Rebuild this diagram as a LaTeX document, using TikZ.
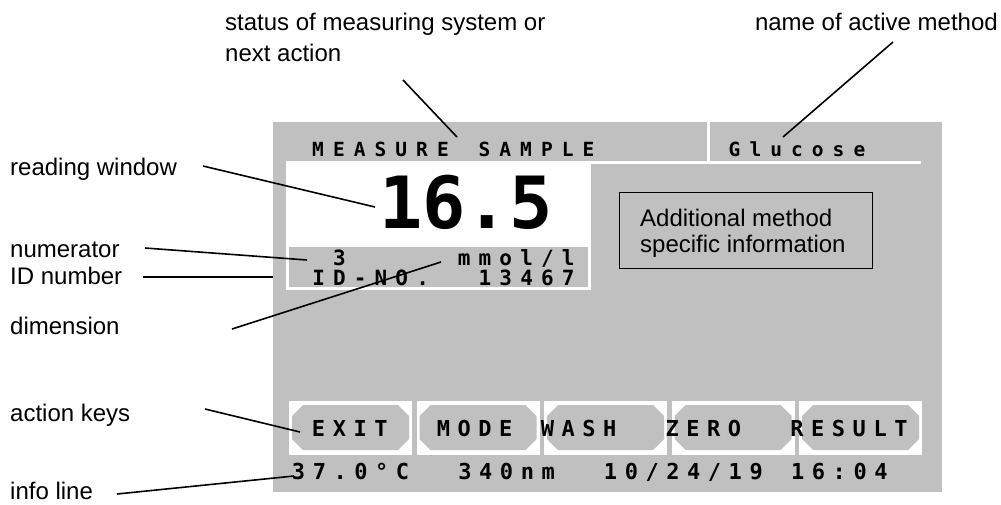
\documentclass[tikz,border=0pt]{standalone}
\usepackage{fontspec}
\setmainfont{Liberation Sans}
\newfontfamily\dmono{DejaVu Sans Mono}
\definecolor{panelgray}{RGB}{192,192,192}
\newlength\monopitch
\setlength\monopitch{20.8pt}
\makeatletter
\newcommand\monostr[1]{\@tfor\mch:=#1\do{\makebox[\monopitch][c]{\mch}}}
\makeatother
\tikzset{
  lbl/.style={anchor=base west, inner sep=0pt, font=\fontsize{24}{28}\selectfont},
  lead/.style={line width=1.6pt, black},
  lcdtop/.style={anchor=base west, inner sep=0pt, font=\dmono\bfseries\fontsize{19.5}{22}\selectfont},
  lcdrow/.style={anchor=base west, inner sep=0pt, font=\dmono\bfseries\fontsize{21}{24}\selectfont},
  lcdkey/.style={anchor=base west, inner sep=0pt, font=\dmono\bfseries\fontsize{22}{25}\selectfont},
  sep/.style={white, line width=3pt},
}
\begin{document}
\begin{tikzpicture}[x=1pt, y=-1pt]
\useasboundingbox (0,0) rectangle (1001,504);
% display panel
\fill[panelgray] (273,122) rectangle (942,492);
\draw[sep] (591,162) -- (921,162);
\draw[sep] (708.5,122) -- (708.5,162);
\fill[white] (286,161) rectangle (591,290);
\fill[panelgray] (289,247) rectangle (588,287);
% key buttons
\foreach \i in {0,...,4}{
  \pgfmathsetmacro\xa{289+127.5*\i}
  \fill[white] (\xa,401) rectangle (\xa+123,455);
  \fill[panelgray] (\xa+14,405) -- (\xa+109,405) -- (\xa+120,416) -- (\xa+120,439)
     -- (\xa+109,450) -- (\xa+14,450) -- (\xa+3,439) -- (\xa+3,416) -- cycle;
}
% display texts
\node[lcdtop] (status) at (307.5,156) {\monostr{MEASURE~SAMPLE}};
\node[lcdtop] (method) at (724,156) {\monostr{Glucose}};
\node[anchor=base, inner sep=0pt, font=\dmono\bfseries\fontsize{72}{80}\selectfont] (reading) at (466,228) {16.5};
\node[lcdrow] (row1) at (308,265) {\monostr{~3~~~~~mmol/l}};
\node[lcdrow] (row2) at (308,285) {\monostr{ID-NO.~~13467}};
\node[lcdkey] (keys) at (308,436) {\monostr{EXIT~~MODE~WASH~~ZERO~~RESULT}};
\node[lcdkey] (info) at (288,479) {\monostr{37.0°C~~340nm~~10/24/19~16:04}};
% additional info box
\node[draw, line width=1.4pt, minimum width=253pt, minimum height=76pt, anchor=north west, inner sep=0pt] (addbox) at (619,192) {};
\node[lbl] (add1) at (640,226) {Additional method};
\node[lbl] (add2) at (640,252) {specific information};
% labels
\node[lbl] (l-status1) at (225,30) {status of measuring system or};
\node[lbl] (l-status2) at (225,61) {next action};
\node[lbl, anchor=base east] (l-method) at (998,30) {name of active method};
\node[lbl] (l-read) at (10,175) {reading window};
\node[lbl] (l-num) at (10,257) {numerator};
\node[lbl] (l-id) at (10,284) {ID number};
\node[lbl] (l-dim) at (10,334) {dimension};
\node[lbl] (l-keys) at (10,421) {action keys};
\node[lbl] (l-info) at (10,499) {info line};
% leader end points
\coordinate (s-status) at (403,80);   \coordinate (e-status) at (457,137);
\coordinate (s-method) at (893,42);   \coordinate (e-method) at (783,137);
\coordinate (s-read) at (203,166);    \coordinate (e-read) at (375,207);
\coordinate (s-num) at (145,248);     \coordinate (e-num) at (307,260);
\coordinate (s-id) at (143,277);      \coordinate (e-id) at (273,277);
\coordinate (s-dim) at (232,329);     \coordinate (e-dim) at (441,262);
\coordinate (s-keys) at (205,409);    \coordinate (e-keys) at (300,432);
\coordinate (s-info) at (117,494);    \coordinate (e-info) at (294,476);
\draw[lead] (s-status) -- (e-status);
\draw[lead] (s-method) -- (e-method);
\draw[lead] (s-read) -- (e-read);
\draw[lead] (s-num) -- (e-num);
\draw[lead] (s-id) -- (e-id);
\draw[lead] (s-dim) -- (e-dim);
\draw[lead] (s-keys) -- (e-keys);
\draw[lead] (s-info) -- (e-info);
\end{tikzpicture}
\end{document}
